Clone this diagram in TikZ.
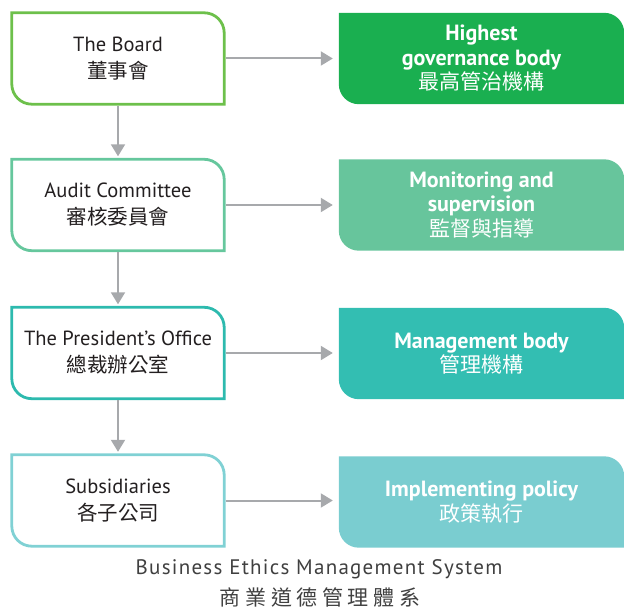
\documentclass[tikz,border=0pt]{standalone}
\usepackage{fontspec}
\setmainfont{PT Sans}
\newfontfamily\cjk{Noto Sans CJK TC}
\newfontfamily\cjktitle[LetterSpace=22]{Noto Sans CJK TC}
\newfontfamily\titlefont[LetterSpace=6]{PT Sans}
\usetikzlibrary{arrows.meta,backgrounds}
\definecolor{bA}{HTML}{6DC04B}
\definecolor{fA}{HTML}{1AAF50}
\definecolor{bB}{HTML}{66C79D}
\definecolor{fB}{HTML}{67C59C}
\definecolor{bC}{HTML}{2DBAAE}
\definecolor{fC}{HTML}{33BEB2}
\definecolor{bD}{HTML}{80D1D4}
\definecolor{fD}{HTML}{7ACDD0}
\definecolor{txt}{HTML}{231F20}
\definecolor{arrg}{HTML}{A7A9AC}
\definecolor{ttl}{HTML}{404040}
\newcommand\cutshape[2]{%
  \path[#2] (#1.north west) -- ([xshift=-20pt]#1.north east)
    arc[start angle=90,end angle=0,radius=20pt] -- (#1.south east)
    -- ([xshift=20pt]#1.south west)
    arc[start angle=270,end angle=180,radius=20pt] -- cycle;}
\tikzset{
  lbox/.style={minimum width=212pt,minimum height=91pt,inner sep=0pt,align=center,
    text=txt,font=\fontsize{20.5}{27}\selectfont},
  rbox/.style={minimum width=285pt,minimum height=91pt,inner sep=0pt,align=center,
    text=white,font=\fontsize{22}{24.5}\selectfont\bfseries},
  rcjk/.style={font=\fontsize{21}{24.5}\cjk},
  arr/.style={draw=arrg,line width=2pt,-{Triangle[width=14pt,length=12pt]}},
  lborder/.style={draw=#1,line width=2.8pt},
  rfill/.style={fill=#1},
}
\newcommand\rc[1]{{\fontsize{21}{24.5}\cjk\mdseries #1}}
\begin{document}
\begin{tikzpicture}[x=1pt,y=1pt]
\useasboundingbox (0,0) rectangle (624,-609);
\node[lbox] (b1) at (118,-58.5) {The Board\\{\cjk 董事會}};
\node[lbox] (b2) at (118,-205) {Audit Committee\\{\cjk 審核委員會}};
\node[lbox] (b3) at (118,-353) {The President’s Office\\{\cjk 總裁辦公室}};
\node[lbox] (b4) at (118,-500.5) {Subsidiaries\\{\cjk 各子公司}};
\node[rbox] (r1) at (481.5,-58.5) {Highest\\governance body\\\rc{最高管治機構}};
\node[rbox] (r2) at (481.5,-205) {Monitoring and\\supervision\\\rc{監督與指導}};
\node[rbox] (r3) at (481.5,-353.5) {Management body\\\rc{管理機構}};
\node[rbox] (r4) at (481.5,-502) {Implementing policy\\\rc{政策執行}};
\begin{scope}[on background layer]
\cutshape{b1}{lborder=bA}
\cutshape{b2}{lborder=bB}
\cutshape{b3}{lborder=bC}
\cutshape{b4}{lborder=bD}
\cutshape{r1}{rfill=fA}
\cutshape{r2}{rfill=fB}
\cutshape{r3}{rfill=fC}
\cutshape{r4}{rfill=fD}
\end{scope}
\foreach \i in {1,2,3,4}{
  \draw[arr,shorten <=1.4pt,shorten >=6pt] (b\i.east) -- (b\i.east -| r\i.west);
}
\draw[arr,shorten <=1.4pt,shorten >=3pt] (b1.south) -- (b2.north);
\draw[arr,shorten <=1.4pt,shorten >=3pt] (b2.south) -- (b3.north);
\draw[arr,shorten <=1.4pt,shorten >=3pt] (b3.south) -- (b4.north);
\node[text=ttl,font=\fontsize{21}{24}\titlefont,inner sep=0pt] (t1) at (319,-569) {Business Ethics Management System};
\node[text=ttl,font=\fontsize{21}{24}\cjktitle,inner sep=0pt] (t2) at (320,-597) {商業道德管理體系};
\end{tikzpicture}
\end{document}
